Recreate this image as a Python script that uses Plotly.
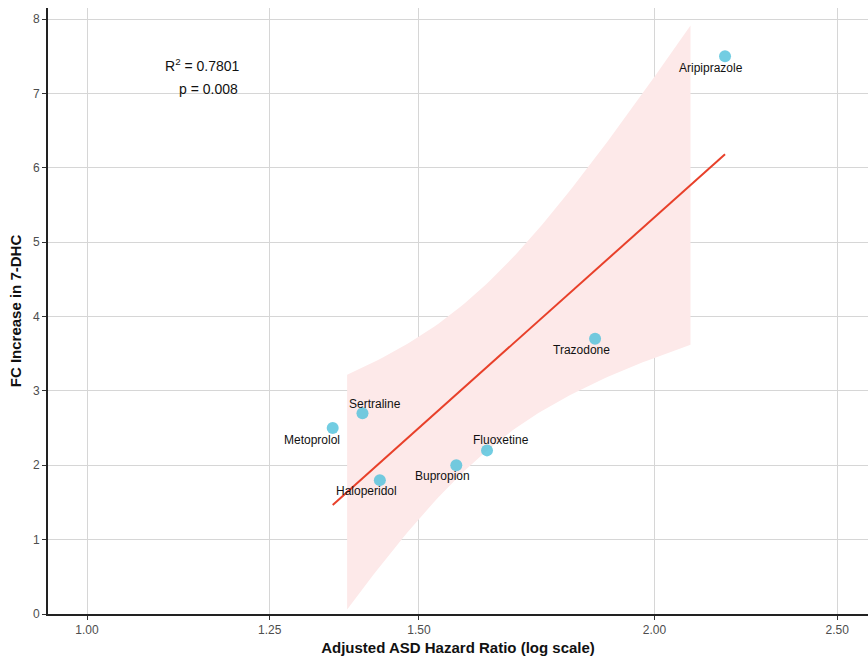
import numpy as np
import plotly.graph_objects as go

# Drug-level data: adjusted ASD hazard ratio vs. fold-change increase in 7-DHC
drugs = ["Metoprolol", "Sertraline", "Haloperidol", "Bupropion", "Fluoxetine", "Trazodone", "Aripiprazole"]
hazard_ratio = [1.35, 1.40, 1.43, 1.57, 1.63, 1.86, 2.18]
fc_7dhc = [2.5, 2.7, 1.8, 2.0, 2.2, 3.7, 7.5]

# label offsets in pixels (dx, dy; dy positive = up)
label_shift = {
    "Metoprolol": (-21, -12),
    "Sertraline": (13, 9),
    "Haloperidol": (-13, -11),
    "Bupropion": (-14, -11),
    "Fluoxetine": (14, 10),
    "Trazodone": (-14, -11),
    "Aripiprazole": (-14, -12),
}

stats_text = ["R<sup>2</sup> = 0.7801", "p = 0.008"]
x_ticks = [1.00, 1.25, 1.50, 2.00, 2.50]
y_ticks = [0, 1, 2, 3, 4, 5, 6, 7, 8]
band_limits = [1.374, 2.09]

# Linear fit of FC on log10(HR) with 95% confidence band
lx = np.log10(hazard_ratio)
fy = np.array(fc_7dhc, dtype=float)
n = len(lx)
slope, intercept = np.polyfit(lx, fy, 1)
resid = fy - (slope * lx + intercept)
s = np.sqrt(np.sum(resid ** 2) / (n - 2))
sxx = np.sum((lx - lx.mean()) ** 2)
t_crit = 2.5706  # t(0.975, df=5)

line_lx = np.linspace(lx.min(), lx.max(), 50)
line_y = slope * line_lx + intercept

band_lx = np.linspace(np.log10(band_limits[0]), np.log10(band_limits[1]), 80)
band_fit = slope * band_lx + intercept
half = t_crit * s * np.sqrt(1 / n + (band_lx - lx.mean()) ** 2 / sxx)
upper = band_fit + half
lower = band_fit - half

fig = go.Figure()

fig.add_trace(go.Scatter(
    x=np.concatenate([10 ** band_lx, 10 ** band_lx[::-1]]),
    y=np.concatenate([upper, lower[::-1]]),
    fill="toself", fillcolor="#FDE9E9", line=dict(width=0),
    mode="lines", hoverinfo="skip", showlegend=False,
))

fig.add_trace(go.Scatter(
    x=10 ** line_lx, y=line_y, mode="lines",
    line=dict(color="#E8402A", width=2), showlegend=False,
))

fig.add_trace(go.Scatter(
    x=hazard_ratio, y=fc_7dhc, mode="markers",
    marker=dict(size=12, color="#4FC1DB", opacity=0.8,
                line=dict(width=0)),
    showlegend=False,
))

for d, hr, fc in zip(drugs, hazard_ratio, fc_7dhc):
    dx, dy = label_shift[d]
    fig.add_annotation(
        x=np.log10(hr), y=fc, xref="x", yref="y", text=d, showarrow=False,
        xshift=dx, yshift=dy, xanchor="center", yanchor="middle",
        font=dict(size=12, color="#111111"),
    )

fig.add_annotation(x=0.189, y=0.906, xref="paper", yref="paper", text=stats_text[0],
                   showarrow=False, xanchor="center", yanchor="middle",
                   font=dict(size=14, color="#111111"))
fig.add_annotation(x=0.1955, y=0.866, xref="paper", yref="paper", text=stats_text[1],
                   showarrow=False, xanchor="center", yanchor="middle",
                   font=dict(size=14, color="#111111"))

fig.update_layout(
    width=868, height=656,
    margin=dict(l=48, r=0, t=8, b=42),
    plot_bgcolor="white", paper_bgcolor="white",
    font=dict(family="Liberation Sans, Arial, sans-serif", size=12, color="#4D4D4D"),
    xaxis=dict(
        type="log", range=[-0.0207, 0.4143],
        tickvals=x_ticks, ticktext=[f"{v:.2f}" for v in x_ticks],
        showgrid=True, gridcolor="#D6D6D6", gridwidth=1,
        showline=True, linecolor="#222222", linewidth=2,
        ticks="outside", ticklen=4, tickcolor="#333333", tickwidth=1,
        zeroline=False,
        title=dict(text="<b>Adjusted ASD Hazard Ratio (log scale)</b>",
                   font=dict(size=15, color="#111111"), standoff=6),
    ),
    yaxis=dict(
        range=[0, 8.148], tickvals=y_ticks,
        showgrid=True, gridcolor="#D6D6D6", gridwidth=1,
        showline=True, linecolor="#222222", linewidth=2,
        ticks="outside", ticklen=4, tickcolor="#333333", tickwidth=1,
        zeroline=False,
        title=dict(text="<b>FC Increase in 7-DHC</b>",
                   font=dict(size=15, color="#111111"), standoff=8),
    ),
)

fig.write_html("out.html")
